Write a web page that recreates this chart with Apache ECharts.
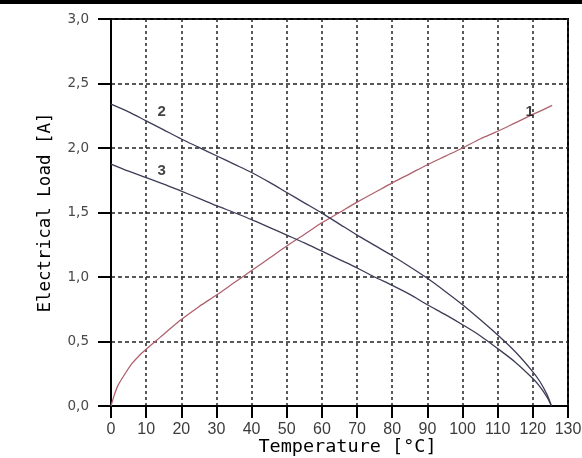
<!DOCTYPE html>
<html>
<head>
<meta charset="utf-8">
<script src="https://cdn.jsdelivr.net/npm/echarts@6/dist/echarts.min.js"></script>
<style>html,body{margin:0;padding:0;background:#fff}#c{width:582px;height:458px}</style>
</head>
<body>
<div id="c"></div>
<script>
var xTicks = [0,10,20,30,40,50,60,70,80,90,100,110,120,130];
var yTicks = [0,0.5,1.0,1.5,2.0,2.5,3.0];

var temp1 = [0,1,2,4,6,8,10,13,16,20,25,30,35,40,45,50,55,60,65,70,75,80,85,90,95,100,105,110,115,120,125.5];
var load1 = [0,0.09,0.16,0.25,0.33,0.39,0.44,0.51,0.58,0.67,0.77,0.86,0.955,1.05,1.145,1.24,1.33,1.42,1.50,1.58,1.655,1.73,1.80,1.87,1.935,2.00,2.07,2.13,2.195,2.26,2.33];

var temp2 = [0,5,10,15,20,25,30,35,40,45,50,55,60,65,70,75,80,85,90,95,100,105,110,115,120,122,124,125.3];
var load2 = [2.34,2.28,2.21,2.14,2.07,2.005,1.94,1.875,1.81,1.735,1.655,1.575,1.495,1.41,1.325,1.245,1.165,1.08,0.99,0.89,0.785,0.67,0.55,0.42,0.265,0.19,0.09,0];

var temp3 = [0,5,10,15,20,25,30,35,40,45,50,55,60,65,70,75,80,85,90,95,100,105,110,115,120,122,124,125.3];
var load3 = [1.875,1.82,1.77,1.72,1.665,1.61,1.553,1.50,1.445,1.385,1.325,1.265,1.20,1.135,1.07,1.0,0.935,0.865,0.785,0.71,0.63,0.545,0.445,0.34,0.213,0.15,0.07,0];

var labelNames = ['1','2','3'];
var labelX = [119.1,14.4,14.4];
var labelY = [2.28,2.28,1.82];

function zip(a,b){return a.map(function(v,i){return [v,b[i]];});}

var chart = echarts.init(document.getElementById('c'), null, {renderer:'canvas'});
chart.setOption({
  backgroundColor:'#fff',
  animation:false,
  graphic:[{type:'rect', shape:{x:0,y:0,width:582,height:4}, style:{fill:'#000'}}],
  grid:{left:111,right:14,top:19,bottom:52,outerBoundsMode:'none',containLabel:false,show:true,borderColor:'#000',borderWidth:2,backgroundColor:'transparent'},
  xAxis:{
    type:'value', min:0, max:130, interval:10,
    name:'Temperature [°C]', nameLocation:'middle', nameGap:32, nameMoveOverlap:false,
    nameTextStyle:{fontFamily:'DejaVu Sans Mono', fontSize:18.5, color:'#000', padding:[0,0,0,16]},
    axisLine:{show:true,lineStyle:{color:'#000',width:2}},
    axisTick:{show:true,inside:false,length:12,lineStyle:{color:'#000',width:2}},
    axisLabel:{margin:16, fontFamily:'Liberation Sans, Arial, sans-serif', fontSize:16, color:'#3c3c3c',
      formatter:function(v){return String(v);}},
    splitLine:{show:true,lineStyle:{color:'#222',width:1.5,type:[3,3]}}
  },
  yAxis:{
    type:'value', min:0, max:3, interval:0.5,
    name:'Electrical Load [A]', nameLocation:'middle', nameGap:47, nameRotate:90, nameMoveOverlap:false,
    nameTextStyle:{fontFamily:'DejaVu Sans Mono', fontSize:17.5, color:'#000', padding:[0,0,10,0]},
    axisLine:{show:true,lineStyle:{color:'#000',width:2}},
    axisTick:{show:true,inside:false,length:13,lineStyle:{color:'#000',width:2}},
    axisLabel:{margin:22, fontFamily:'DejaVu Sans, sans-serif', fontSize:13.5, color:'#484848',
      formatter:function(v){return v.toFixed(1).replace('.',',');}},
    splitLine:{show:true,lineStyle:{color:'#222',width:1.5,type:[4,3]}}
  },
  series:[
    {type:'line', data:zip(temp1,load1), smooth:0.3, showSymbol:false, lineStyle:{color:'#b0606e',width:1.3}, z:5},
    {type:'line', data:zip(temp2,load2), smooth:0.3, showSymbol:false, lineStyle:{color:'#3c3c58',width:1.3}, z:5},
    {type:'line', data:zip(temp3,load3), smooth:0.3, showSymbol:false, lineStyle:{color:'#3c3c58',width:1.3}, z:5},
    {type:'scatter', data:labelX.map(function(x,i){return {value:[x,labelY[i]], name:labelNames[i]};}),
     symbolSize:1, itemStyle:{color:'transparent'}, z:6,
     label:{show:true, position:'inside', formatter:function(p){return p.name;},
       fontFamily:'Liberation Sans, Arial, sans-serif', fontWeight:'bold', fontSize:15, color:'#111'}}
  ]
});
</script>
</body>
</html>
